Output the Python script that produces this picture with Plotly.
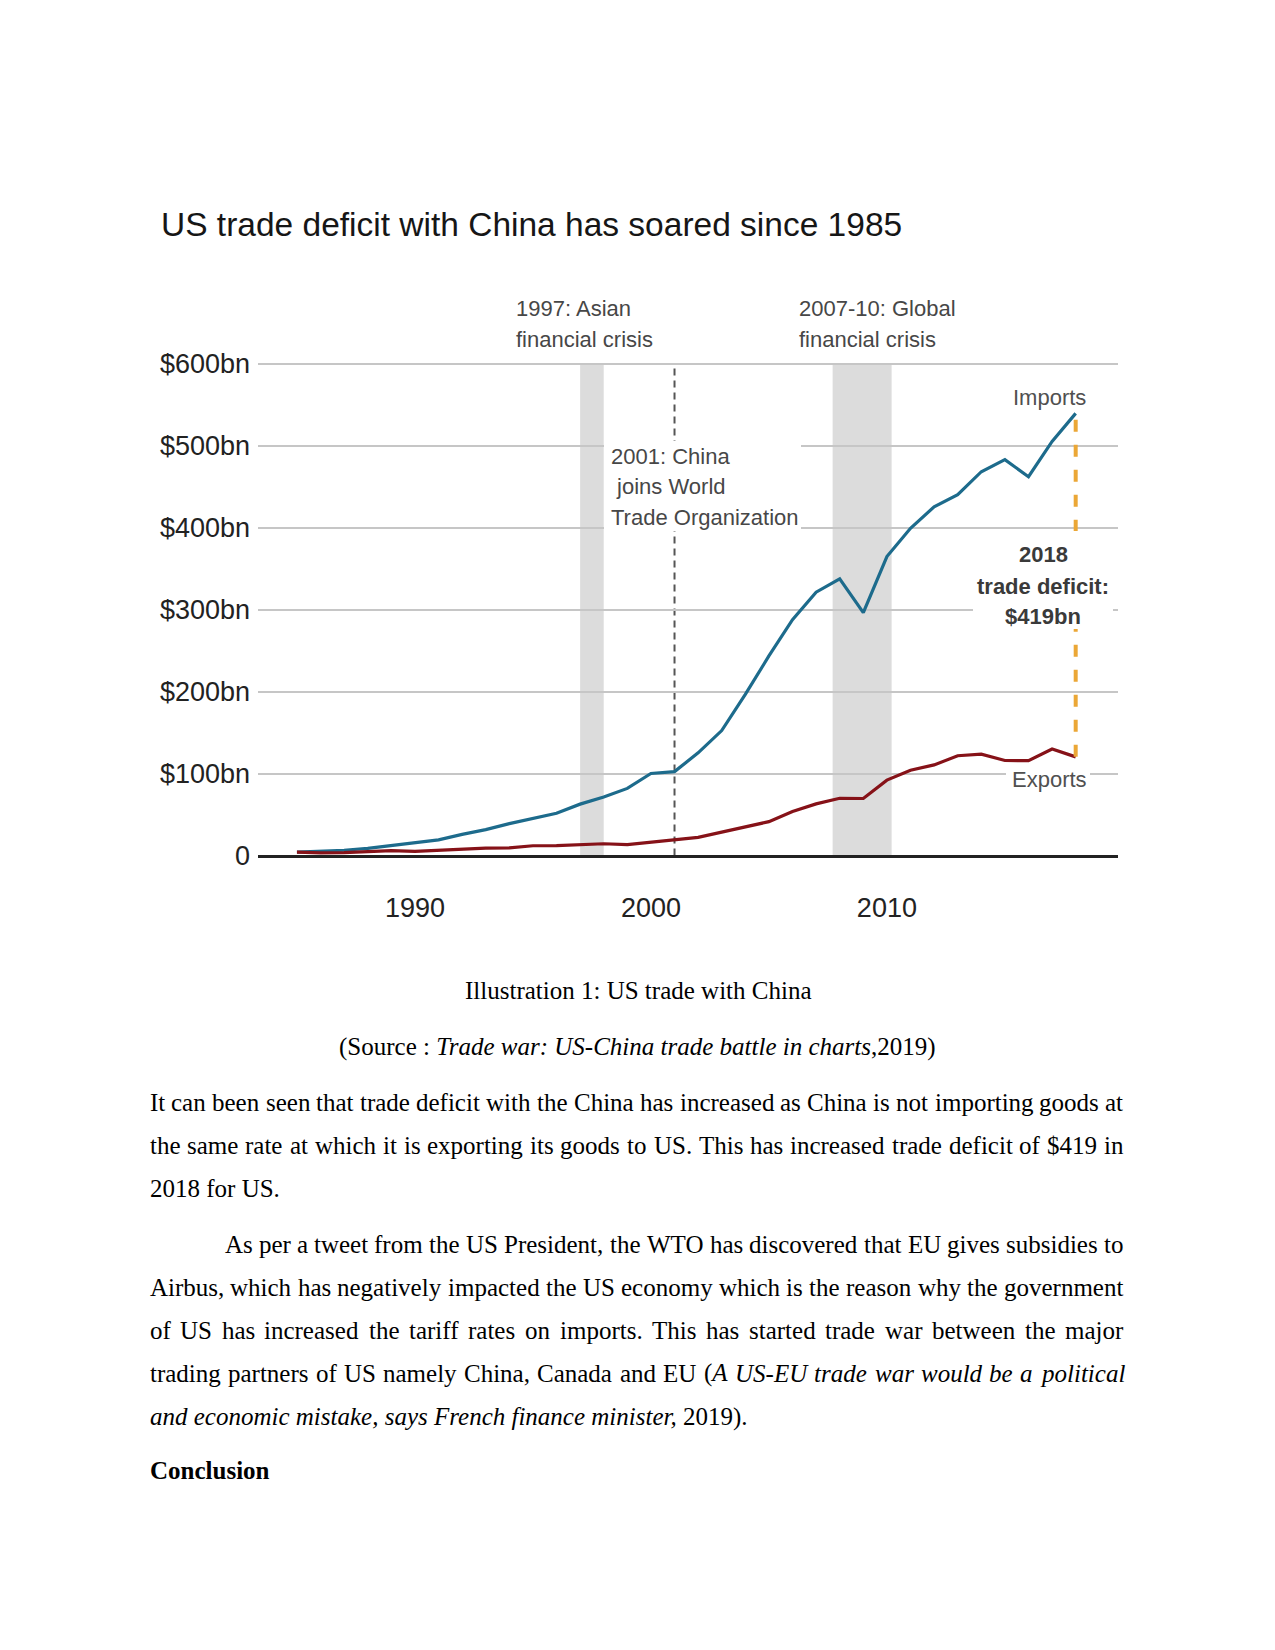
import plotly.graph_objects as go

# ---------------- data ----------------
years = list(range(1985, 2019))
imports_bn = [3.9, 4.8, 6.3, 8.5, 12.0, 15.2, 19.0, 25.7, 31.5, 38.8, 45.5, 51.5, 62.6, 71.2,
              81.8, 100.0, 102.3, 125.2, 152.4, 196.7, 243.5, 287.8, 321.4, 337.8, 296.4, 364.9,
              399.4, 425.6, 440.4, 468.5, 483.2, 462.4, 505.5, 539.7]
exports_bn = [3.9, 3.1, 3.5, 5.0, 5.8, 4.8, 6.3, 7.4, 8.8, 9.3, 11.8, 12.0, 12.9, 14.2,
              13.1, 16.2, 19.2, 22.1, 28.4, 34.4, 41.2, 53.7, 62.9, 69.7, 69.5, 91.9,
              103.9, 110.5, 121.7, 123.7, 115.9, 115.6, 129.9, 120.3]
crisis_start = [1997.0, 2007.7]
crisis_end = [1998.0, 2010.2]
wto_year = 2001
y_tick_vals = [0, 100, 200, 300, 400, 500, 600]
y_tick_text = ["0", "$100bn", "$200bn", "$300bn", "$400bn", "$500bn", "$600bn"]
x_tick_vals = [1990, 2000, 2010]

title_text = "US trade deficit with China has soared since 1985"
caption_line = [("Illustration 1: US trade with China", False)]
source_line = [("(Source : ", False), ("Trade war: US-China trade battle in charts", True), (",2019)", False)]
para1 = [
    [("It can been seen that trade deficit with the China has increased as China is not importing goods at", False)],
    [("the same rate at which it is exporting its goods to US. This has increased trade deficit of $419 in", False)],
    [("2018 for US.", False)],
]
para2 = [
    [("As per a tweet from the US President, the WTO has discovered that EU gives subsidies to", False)],
    [("Airbus, which has negatively impacted the US economy which is the reason why the government", False)],
    [("of US has increased the tariff rates on imports. This has started trade war between the major", False)],
    [("trading partners of US namely China, Canada and EU (", False), ("A US-EU trade war would be a political", True)],
    [("and economic mistake, says French finance minister,", True), (" 2019).", False)],
]

# ---------------- style / layout ----------------
W, H = 1275, 1650          # page size
OFF = 8                    # default body margin of the html page
FW, FH = W - 2 * OFF, 1600  # keep the page shorter than the window
SANS = "Liberation Sans, Arial, sans-serif"
SERIF = "Liberation Serif, Times New Roman, serif"
BLUE = "#1d6b8c"
RED = "#861218"
ORANGE = "#eba736"
BAND = "#dcdcdc"
GRID = "#c6c6c6"


def fx(x):
    return (x - OFF) / FW


def fy(y):
    return 1 - (y - OFF) / FH


# Times metrics (per 1000 em) for justification
ROMAN = {" ": 250, "!": 333, "$": 500, "(": 333, ")": 333, ",": 250, "-": 333, ".": 250, ":": 278, ";": 278,
         "A": 722, "B": 667, "C": 667, "D": 722, "E": 611, "F": 556, "G": 722, "H": 722, "I": 333, "J": 389,
         "K": 722, "L": 611, "M": 889, "N": 722, "O": 722, "P": 556, "Q": 722, "R": 667, "S": 556, "T": 611,
         "U": 722, "V": 722, "W": 944, "X": 722, "Y": 722, "Z": 611,
         "a": 444, "b": 500, "c": 444, "d": 500, "e": 444, "f": 333, "g": 500, "h": 500, "i": 278, "j": 278,
         "k": 500, "l": 278, "m": 778, "n": 500, "o": 500, "p": 500, "q": 500, "r": 333, "s": 389, "t": 278,
         "u": 500, "v": 500, "w": 722, "x": 500, "y": 500, "z": 444}
ITALIC = {" ": 250, "(": 333, ")": 333, ",": 250, "-": 333, ".": 250, ":": 333,
          "A": 611, "B": 611, "C": 667, "D": 722, "E": 611, "F": 611, "G": 722, "H": 722, "I": 333, "J": 444,
          "K": 667, "L": 556, "M": 833, "N": 667, "O": 722, "P": 611, "Q": 722, "R": 611, "S": 500, "T": 556,
          "U": 722, "V": 611, "W": 833, "X": 611, "Y": 556, "Z": 556,
          "a": 500, "b": 500, "c": 444, "d": 500, "e": 444, "f": 278, "g": 500, "h": 500, "i": 278, "j": 278,
          "k": 444, "l": 278, "m": 722, "n": 500, "o": 500, "p": 500, "q": 500, "r": 389, "s": 389, "t": 278,
          "u": 500, "v": 444, "w": 667, "x": 444, "y": 444, "z": 389}
for d in (ROMAN, ITALIC):
    for dg in "0123456789":
        d[dg] = 500

fig = go.Figure()

# ---------------- chart ----------------
for s, e in zip(crisis_start, crisis_end):
    fig.add_shape(type="rect", xref="x", yref="y", x0=s, x1=e, y0=0, y1=600,
                  fillcolor=BAND, line=dict(width=0), layer="below")

fig.add_shape(type="line", xref="x", yref="y", x0=wto_year, x1=wto_year, y0=0, y1=600,
              line=dict(color="#555555", width=2, dash="7px,5px"), layer="below")

fig.add_trace(go.Scatter(x=years, y=imports_bn, mode="lines", line=dict(color=BLUE, width=3.2),
                         name="Imports", hoverinfo="skip"))
fig.add_trace(go.Scatter(x=years, y=exports_bn, mode="lines", line=dict(color=RED, width=3.2),
                         name="Exports", hoverinfo="skip"))
fig.add_trace(go.Scatter(x=[years[-1], years[-1]], y=[exports_bn[-1], imports_bn[-1]], mode="lines",
                         line=dict(color=ORANGE, width=4, dash="12px,13px"), hoverinfo="skip"))

# white boxes behind labels (cut gridlines)
for (x0, x1, y0, y1) in [(604, 801, 441, 531), (973, 1113, 531, 629), (1006, 1090, 766, 794)]:
    fig.add_shape(type="rect", xref="paper", yref="paper", x0=fx(x0), x1=fx(x1), y0=fy(y1), y1=fy(y0),
                  fillcolor="white", line=dict(width=0), layer="above")


def add_text(text, x, y, size, color="#000000", family=SANS, xanchor="left"):
    fig.add_annotation(text=text, x=fx(x), y=fy(y), xref="paper", yref="paper",
                       xanchor=xanchor, yanchor="middle", showarrow=False, borderpad=0,
                       font=dict(family=family, size=size, color=color))


add_text(title_text, 160, 224, 33.5, "#161616")

ANN = "#474747"
AS = 22
add_text("1997: Asian", 515, 308, AS, ANN)
add_text("financial crisis", 515, 339, AS, ANN)
add_text("2007-10: Global", 798, 308, AS, ANN)
add_text("financial crisis", 798, 339, AS, ANN)
add_text("2001: China", 610, 456.5, AS, ANN)
add_text("\u00a0joins World", 610, 487, AS, ANN)
add_text("Trade Organization", 610, 517.5, AS, ANN)
add_text("Imports", 1086.5, 397, AS, "#505050", xanchor="right")
add_text("Exports", 1087.5, 779.5, AS, "#505050", xanchor="right")
deficit = imports_bn[-1] - exports_bn[-1]
add_text("<b>%d</b>" % years[-1], 1043, 555, AS, "#3a3a3a", xanchor="center")
add_text("<b>trade deficit:</b>", 1043, 586, AS, "#3a3a3a", xanchor="center")
add_text("<b>$%dbn</b>" % round(deficit), 1043, 616.5, AS, "#3a3a3a", xanchor="center")

# ---------------- document text ----------------
FS = 25


def markup(chunks):
    return "".join(("<i>%s</i>" % c) if it else c for c, it in chunks)


def words_of(segs):
    words, cur = [], []
    for txt, it in segs:
        parts = txt.split(" ")
        for k, p in enumerate(parts):
            if k > 0 and cur:
                words.append(cur)
                cur = []
            if p:
                cur.append((p, it))
    if cur:
        words.append(cur)
    return words


def width(chunks):
    tot = 0
    for c, it in chunks:
        tab = ITALIC if it else ROMAN
        tot += sum(tab.get(ch, 500) for ch in c)
    return tot / 1000 * FS


def justified(segs, left, right, y):
    ws = words_of(segs)
    widths = [width(w) for w in ws]
    gap = (right - left - sum(widths)) / (len(ws) - 1)
    x = left
    for w, wd in zip(ws, widths):
        add_text(markup(w), x, y, FS, "#000000", SERIF)
        x += wd + gap


LEFT, RIGHT, INDENT = 148.5, 1122.5, 223.5
add_text(markup(caption_line), W / 2, 990, FS, "#000000", SERIF, xanchor="center")
add_text(markup(source_line), W / 2, 1046.5, FS, "#000000", SERIF, xanchor="center")

p1_y = [1102, 1145, 1188.5]
for i, (segs, y) in enumerate(zip(para1, p1_y)):
    if i < len(para1) - 1:
        justified(segs, LEFT, RIGHT, y)
    else:
        add_text(markup(segs), LEFT, y, FS, "#000000", SERIF)

p2_y = [1244, 1287, 1330, 1373, 1416.5]
for i, (segs, y) in enumerate(zip(para2, p2_y)):
    left = INDENT if i == 0 else LEFT
    if i < len(para2) - 1:
        justified(segs, left, RIGHT, y)
    else:
        add_text(markup(segs), LEFT, y, FS, "#000000", SERIF)

add_text("<b>Conclusion</b>", LEFT, 1470.5, FS, "#000000", SERIF)

# ---------------- axes ----------------
PX_PER_BN = 0.819
Y0 = 855.4
YTOP = 612
fig.update_layout(
    width=FW, height=FH, margin=dict(l=0, r=0, t=0, b=0, pad=0, autoexpand=False),
    paper_bgcolor="white", plot_bgcolor="white", showlegend=False,
    xaxis=dict(domain=[fx(258), fx(1117.7)], range=[1983.35, 2019.78], automargin=False,
               tickvals=x_tick_vals, showgrid=False, zeroline=False,
               showline=True, linecolor="#222222", linewidth=3, ticks="",
               tickfont=dict(family=SANS, size=27, color="#222222"),
               ticklabelstandoff=26, fixedrange=True),
    yaxis=dict(domain=[fy(Y0), fy(Y0 - YTOP * PX_PER_BN)], range=[0, YTOP], automargin=False,
               tickvals=y_tick_vals, ticktext=y_tick_text, showgrid=True,
               gridcolor=GRID, gridwidth=1.5, zeroline=False, showline=False, ticks="",
               tickfont=dict(family=SANS, size=27, color="#222222"),
               ticklabelstandoff=7, fixedrange=True),
)

fig.write_html("out.html")
